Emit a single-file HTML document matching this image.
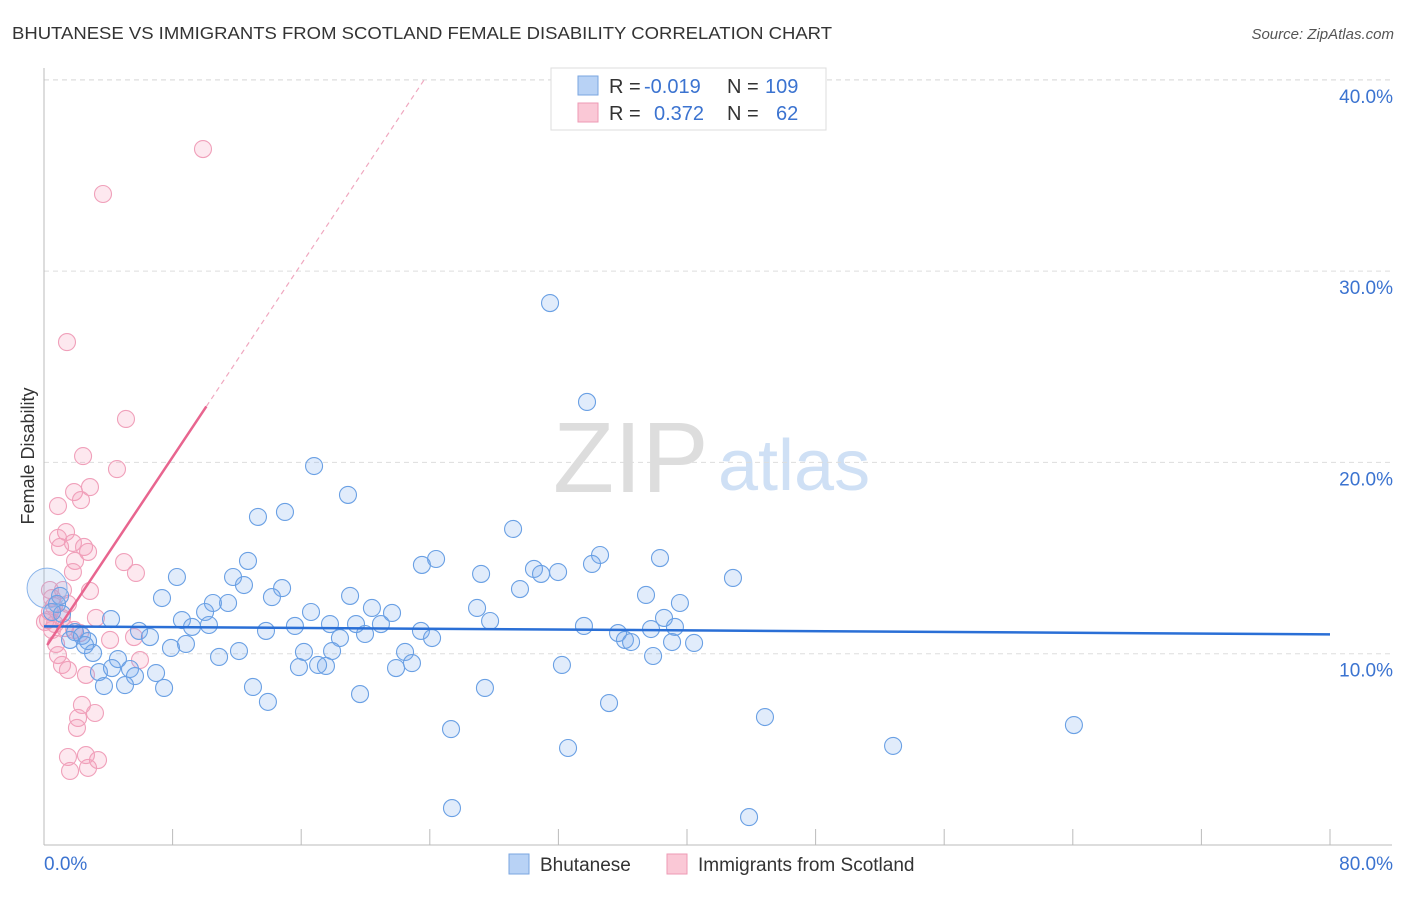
<!DOCTYPE html>
<html><head><meta charset="utf-8"><style>
body{margin:0;background:#fff;font-family:"Liberation Sans",sans-serif}
svg text{font-family:"Liberation Sans",sans-serif}
</style></head><body>
<svg id="chart" width="1406" height="892" xmlns="http://www.w3.org/2000/svg">
<text x="12" y="39" font-size="17.5" fill="#333" textLength="820" lengthAdjust="spacingAndGlyphs">BHUTANESE VS IMMIGRANTS FROM SCOTLAND FEMALE DISABILITY CORRELATION CHART</text>
<text x="1394" y="39" font-size="15" fill="#555" text-anchor="end" font-style="italic">Source: ZipAtlas.com</text>
<text x="553" y="492" font-size="100" fill="#ddd" font-family="Liberation Serif,serif">ZIP</text>
<text x="718" y="490" font-size="72" fill="#cfe0f5">atlas</text>
<g id="grid"></g>
<g id="axes"></g>
<g id="pts"></g>
<g id="trends"></g>
<text transform="translate(34,456) rotate(-90)" font-size="18" fill="#333" text-anchor="middle">Female Disability</text>
<g>
<rect x="551" y="68" width="275" height="62" fill="#fff" stroke="#ddd"/>
<rect x="578" y="76" width="20" height="19" fill="#b8d2f5" stroke="#7aa6e0"/>
<rect x="578" y="103" width="20" height="19" fill="#fac8d6" stroke="#ee9ab4"/>
<text y="93" font-size="20" fill="#333"><tspan x="609">R =</tspan><tspan x="644" fill="#3b73d0">-0.019</tspan><tspan x="727">N =</tspan><tspan x="765" fill="#3b73d0">109</tspan></text>
<text y="120" font-size="20" fill="#333"><tspan x="609">R =</tspan><tspan fill="#3b73d0" x="654">0.372</tspan><tspan x="727">N =</tspan><tspan fill="#3b73d0" x="776">62</tspan></text>
</g>
<g>
<rect x="509" y="854" width="20" height="20" fill="#b8d2f5" stroke="#7aa6e0"/>
<text x="540" y="871" font-size="19" fill="#333">Bhutanese</text>
<rect x="667" y="854" width="20" height="20" fill="#fac8d6" stroke="#ee9ab4"/>
<text x="698" y="871" font-size="19" fill="#333">Immigrants from Scotland</text>
</g>
</svg>
<script>
const xTicks=[8,16,24,32,40,48,56,64,72,80];
const yTicks=[10,20,30,40];
const yTickLabels=["10.0%","20.0%","30.0%","40.0%"];
const xEndLabels=["0.0%","80.0%"];
const blueX=[31.48,33.78,16.80,18.91,14.99,13.31,29.18,34.59,38.32,24.39,12.69,23.51,34.09,30.48,31.98,30.92,27.19,8.27,11.76,42.86,12.44,14.81,29.61,14.18,7.34,19.04,37.45,10.51,11.45,39.56,10.02,20.40,26.94,21.65,16.61,4.17,8.58,10.26,17.79,19.41,20.96,9.21,15.61,27.75,33.59,38.57,39.25,37.76,13.81,5.91,23.45,6.59,18.41,19.97,35.71,36.14,36.52,24.14,40.44,39.07,8.83,7.90,3.05,16.17,22.46,17.92,12.13,10.89,37.89,4.60,22.89,21.90,32.22,15.86,17.54,17.05,3.42,5.35,6.97,4.23,5.66,3.73,5.04,7.47,13.00,27.43,19.66,13.93,35.15,44.85,64.07,25.32,32.60,52.82,25.38,43.86,1.00,0.81,0.50,1.12,1.93,2.36,2.74,1.62,2.55];
const blueY=[28.33,23.16,19.81,18.30,17.41,17.15,16.52,15.16,15.00,14.95,14.85,14.64,14.69,14.43,14.27,14.17,14.17,14.01,14.01,13.96,13.59,13.43,13.38,12.96,12.91,13.02,13.07,12.65,12.65,12.65,12.18,12.39,12.39,12.13,12.18,11.81,11.76,11.50,11.55,11.55,11.55,11.40,11.45,11.71,11.45,11.87,11.40,11.29,11.19,11.19,11.19,10.87,10.82,11.03,11.08,10.72,10.61,10.82,10.56,10.61,10.51,10.30,10.04,10.09,10.09,10.14,10.14,9.83,9.88,9.72,9.51,9.25,9.41,9.30,9.36,9.41,9.04,9.20,8.99,9.25,8.83,8.31,8.36,8.21,8.26,8.21,7.89,7.48,7.42,6.69,6.27,6.06,5.07,5.18,1.93,1.46,13.02,12.60,12.18,12.08,11.13,10.93,10.66,10.72,10.45];
const bigBlue=[0.19,13.43];
const pinkX=[9.89,3.67,1.43,5.10,2.43,4.54,2.86,1.87,0.87,2.30,1.37,0.87,1.80,1.00,2.49,2.74,1.93,4.98,1.80,5.72,1.18,0.37,2.86,1.49,0.62,3.23,2.24,5.60,4.11,0.75,0.87,5.97,1.12,1.49,2.61,2.36,2.12,3.17,2.05,1.49,1.62,2.74,3.36,2.61,0.50,0.37,0.25,0.68,1.31,1.87,1.12,0.06,0.50];
const pinkY=[36.38,34.03,26.29,22.27,20.33,19.65,18.71,18.45,17.72,18.03,16.36,16.05,15.79,15.58,15.58,15.32,14.85,14.79,14.27,14.22,13.33,13.33,13.28,12.60,12.49,11.87,11.08,10.87,10.72,10.51,9.93,9.67,9.41,9.15,8.89,7.32,6.64,6.90,6.12,4.60,3.87,4.03,4.44,4.70,12.91,12.18,11.76,11.55,11.34,11.24,11.87,11.66,11.24];
const blueTrend=[11.43,11.01];
const pinkTrend=[10.2,1.26];
const X=v=>44+v*16.075, Y=v=>845-v*19.13;
const NS="http://www.w3.org/2000/svg";
function mk(p,t,a){const e=document.createElementNS(NS,t);for(const k in a)e.setAttribute(k,a[k]);p.appendChild(e);return e;}
const grid=document.getElementById('grid'),axes=document.getElementById('axes'),pts=document.getElementById('pts'),tr=document.getElementById('trends');
yTicks.forEach((t,i)=>{
 const l=mk(grid,'line',{x1:44,x2:1392,y1:Y(t),y2:Y(t),stroke:'#ddd','stroke-dasharray':'5,4'});
 
 
 const tx=mk(axes,'text',{x:1393,y:Y(t)+23,'font-size':19,fill:'#3b73d0','text-anchor':'end'});
 tx.textContent=yTickLabels[i];
 
 
});
const gl=mk(grid,'line',{x1:44,x2:1392,y1:80,y2:80,stroke:'#ddd','stroke-dasharray':'5,4'});


const xa=mk(axes,'line',{x1:44,x2:1392,y1:845,y2:845,stroke:'#bbb'});


const ya=mk(axes,'line',{x1:44,x2:44,y1:68,y2:845,stroke:'#bbb'});


xTicks.forEach(t=>{
 const l=mk(axes,'line',{x1:X(t),x2:X(t),y1:829,y2:845,stroke:'#bbb'});
 
 
});
const x0=mk(axes,'text',{x:44,y:870,'font-size':19,fill:'#3b73d0'});x0.textContent=xEndLabels[0];


const x1=mk(axes,'text',{x:1393,y:870,'font-size':19,fill:'#3b73d0','text-anchor':'end'});x1.textContent=xEndLabels[1];


pinkX.forEach((x,i)=>{
 const c=mk(pts,'circle',{cx:X(x),cy:Y(pinkY[i]),r:8.5,fill:'rgba(244,150,180,0.22)',stroke:'#f0a0ba','stroke-width':1.1});
 
 
});
blueX.forEach((x,i)=>{
 const c=mk(pts,'circle',{cx:X(x),cy:Y(blueY[i]),r:8.5,fill:'rgba(120,170,235,0.22)',stroke:'#6aa0e4','stroke-width':1.1});
 
 
});
const bb=mk(pts,'circle',{cx:X(bigBlue[0]),cy:Y(bigBlue[1]),r:20,fill:'rgba(120,170,235,0.18)',stroke:'#8ab4ea','stroke-width':1});


const bt=mk(tr,'line',{x1:X(0),x2:X(80),y1:Y(blueTrend[0]),y2:Y(blueTrend[1]),stroke:'#2a6fd6','stroke-width':2.5});


const pf=x=>pinkTrend[0]+pinkTrend[1]*x;
const pt=mk(tr,'line',{x1:X(0.2),x2:X(10.1),y1:Y(pf(0.2)),y2:Y(pf(10.1)),stroke:'#e8658f','stroke-width':2.5});


const xe=(40-pinkTrend[0])/pinkTrend[1];
const pd=mk(tr,'line',{x1:X(10.1),x2:X(xe),y1:Y(pf(10.1)),y2:Y(40),stroke:'#f0a8c0','stroke-width':1.2,'stroke-dasharray':'5,4'});


</script>
</body></html>
